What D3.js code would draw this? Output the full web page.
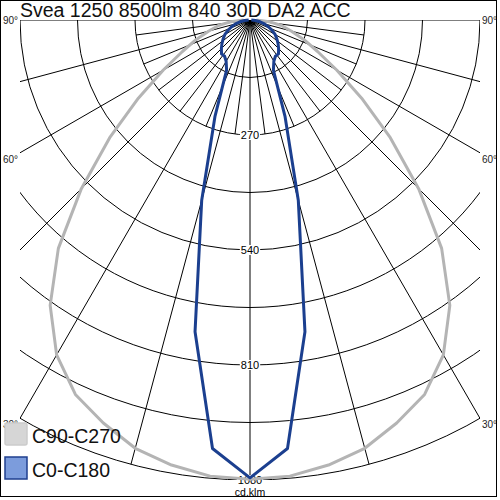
<!DOCTYPE html>
<html><head><meta charset="utf-8">
<script src="https://cdn.jsdelivr.net/npm/d3@7"></script>
<style>html,body{margin:0;padding:0;background:#fff}svg{display:block}</style>
</head><body>
<svg id="chart" width="500" height="500"></svg>
<script>
const title = "Svea 1250 8500lm 840 30D DA2 ACC";
const gammaAngles = [0,5,10,15,20,25,30,35,40,45,50,55,60,65,70,75,80,85,90];
const c0c180 =  [1075,1010,743,438,240,130,112,104,104,95,86,77,68,57,46,35,24,13,3];
const c90c270 = [1078,1075,1061,1041,1007,970,908,818,700,560,430,320,235,175,135,100,75,45,15];
const circleValues = [135,270,405,540,675,810,945,1080];
const labelValues = [270,540,810,1080];
const majorAngles = [-90,-75,-60,-45,-30,-15,0,15,30,45,60,75,90];
const minorAngles = [-82.5,-67.5,-52.5,-37.5,-22.5,-7.5,7.5,22.5,37.5,52.5,67.5,82.5];
const degreeLabels = [90,60,30];
const seriesNames = ["C90-C270","C0-C180"];
const unitLabel = "cd.klm";

const svg = d3.select("#chart");
const cx = 250, cy = 20;
const r = d3.scaleLinear().domain([0,1080]).range([0,460]);
const rad = d => d*Math.PI/180;

svg.append("defs").append("clipPath").attr("id","plotclip")
  .append("rect").attr("x",20).attr("y",20).attr("width",460).attr("height",460);

const g = svg.append("g").attr("transform",`translate(${cx},${cy})`);
const grid = g.append("g").attr("clip-path","url(#plotclip)").attr("transform",`translate(${-cx},${-cy})`)
  .append("g").attr("transform",`translate(${cx},${cy})`);

grid.selectAll("circle.ring").data(circleValues).join("circle")
  .attr("class","ring").attr("cx",0).attr("cy",0).attr("r",d=>r(d))
  .attr("fill","none").attr("stroke","#000").attr("stroke-width",1);

grid.selectAll("line.major").data(majorAngles).join("line")
  .attr("class","major").attr("x1",0).attr("y1",0)
  .attr("x2",d=>r(1080)*Math.sin(rad(d))).attr("y2",d=>r(1080)*Math.cos(rad(d)))
  .attr("stroke","#000").attr("stroke-width",1);

grid.selectAll("line.minor").data(minorAngles).join("line")
  .attr("class","minor").attr("x1",0).attr("y1",0)
  .attr("x2",d=>r(270)*Math.sin(rad(d))).attr("y2",d=>r(270)*Math.cos(rad(d)))
  .attr("stroke","#000").attr("stroke-width",1);

// circle value labels
const lab = g.append("g").attr("font-family","Liberation Sans, Arial, sans-serif").attr("font-size",11).attr("fill","#000");
labelValues.forEach(v=>{
  const t = lab.append("text").attr("x",0).attr("y",r(v)).attr("text-anchor","middle")
    .attr("dominant-baseline","central").text(v);
  const bb = t.node().getBBox();
  lab.insert("rect","text").attr("x",bb.x-1).attr("y",bb.y+1).attr("width",bb.width+2).attr("height",bb.height-2).attr("fill","#fff");
});
g.append("text").attr("x",0).attr("y",476).attr("text-anchor","middle")
  .attr("font-family","Liberation Sans, Arial, sans-serif").attr("font-size",10.5).text(unitLabel);

// degree labels
const dl = svg.append("g").attr("font-family","Liberation Sans, Arial, sans-serif").attr("font-size",10).attr("fill","#222");
degreeLabels.forEach(a=>{
  const yEnd = cy + 230/Math.tan(rad(a)) ;
  const yy = a===90 ? cy : yEnd + 6.5;
  dl.append("text").attr("x",482).attr("y",yy).attr("dominant-baseline","central").text(a+"°");
  dl.append("text").attr("x",3).attr("y",yy).attr("dominant-baseline","central").text(a+"°");
});

// curves
function fullCurve(vals){
  const pts = [];
  for(let i=gammaAngles.length-1;i>0;i--) pts.push([-gammaAngles[i], vals[i]]);
  for(let i=0;i<gammaAngles.length;i++) pts.push([gammaAngles[i], vals[i]]);
  return pts;
}
const lineR = d3.lineRadial().angle(d=>Math.PI - rad(d[0])).radius(d=>r(d[1]));
g.append("path").attr("d",lineR(fullCurve(c90c270))).attr("fill","none")
  .attr("stroke","#b4b4b4").attr("stroke-width",3).attr("stroke-linejoin","round");
g.append("path").attr("d",lineR(fullCurve(c0c180))).attr("fill","none")
  .attr("stroke","#1b3f8f").attr("stroke-width",3).attr("stroke-linejoin","round");

// title
svg.append("text").attr("x",20).attr("y",17).attr("font-family","Liberation Sans, Arial, sans-serif")
  .attr("font-size",19.5).attr("fill","#111").text(title);

// legend
const leg = svg.append("g").attr("font-family","Liberation Sans, Arial, sans-serif").attr("font-size",19.5);
const legFill = ["#d6d6d6","#7c9cdc"], legStroke = ["#cbcbcb","#1f3f8f"];
seriesNames.forEach((n,i)=>{
  const y0 = 423 + i*34;
  leg.append("rect").attr("x",5).attr("y",y0).attr("width",22).attr("height",22)
    .attr("fill",legFill[i]).attr("stroke",legStroke[i]).attr("stroke-width",1.5).attr("rx",i===0?2:0);
  leg.append("text").attr("x",32).attr("y",y0+20).attr("fill","#111").text(n);
});

// frame
svg.append("rect").attr("x",0.5).attr("y",0.5).attr("width",496).attr("height",496)
  .attr("fill","none").attr("stroke","#000").attr("stroke-width",1);
</script>
</body></html>
